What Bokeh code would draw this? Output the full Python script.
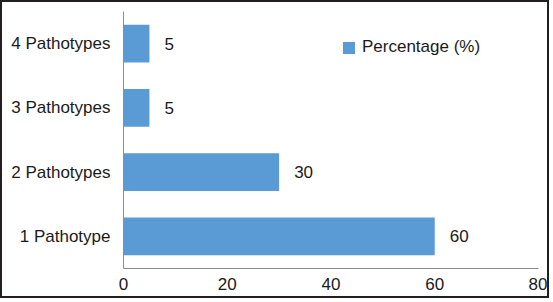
from bokeh.plotting import figure
from bokeh.models import ColumnDataSource, Legend, LegendItem, FixedTicker
from bokeh.embed import file_html
from bokeh.resources import INLINE

categories = ["1 Pathotype", "2 Pathotypes", "3 Pathotypes", "4 Pathotypes"]
values = [60, 30, 5, 5]
labels = ["60", "30", "5", "5"]
x_ticks = [0, 20, 40, 60, 80]
series_name = "Percentage (%)"

FONT = "Liberation Sans"
BAR = "#5b9bd5"
TXT = "#1a1a1a"
FS = "17px"

src = ColumnDataSource(dict(cat=categories, val=values, lab=labels))

p = figure(width=549, height=298, y_range=categories, x_range=(0, 80),
           output_backend="svg", toolbar_location=None,
           min_border_left=121, min_border_right=13, min_border_top=9, min_border_bottom=32,
           styles={"border": "2px solid #231f20"})
p.outline_line_color = None
p.grid.visible = False
p.background_fill_color = "white"
p.border_fill_color = "white"

r = p.hbar(y="cat", right="val", left=0, height=0.59, source=src, color=BAR, line_color=None)
p.text(x="val", y="cat", text="lab", source=src, x_offset=15, text_baseline="middle",
       text_align="left", text_font_size=FS, text_color=TXT, text_font={"value": FONT})

for ax in (p.xaxis[0], p.yaxis[0]):
    ax.axis_line_color = "#8c8c8c"
    ax.axis_line_width = 1
    ax.major_tick_line_color = None
    ax.minor_tick_line_color = None
    ax.major_tick_out = 0
    ax.major_tick_in = 0
    ax.major_label_text_font_size = FS
    ax.major_label_text_font = FONT
    ax.major_label_text_color = TXT

p.xaxis.ticker = FixedTicker(ticks=x_ticks)
p.xaxis.major_label_standoff = 9
p.yaxis.major_label_standoff = 13

legend = Legend(items=[LegendItem(label=series_name, renderers=[r])], location=(218, 211),
                glyph_width=15, glyph_height=15, label_standoff=6, padding=0, margin=0,
                border_line_color=None, background_fill_alpha=0,
                label_text_font_size=FS, label_text_font=FONT, label_text_color=TXT,
                label_height=15)
p.add_layout(legend)

open("out.html", "w").write(file_html(p, INLINE))
